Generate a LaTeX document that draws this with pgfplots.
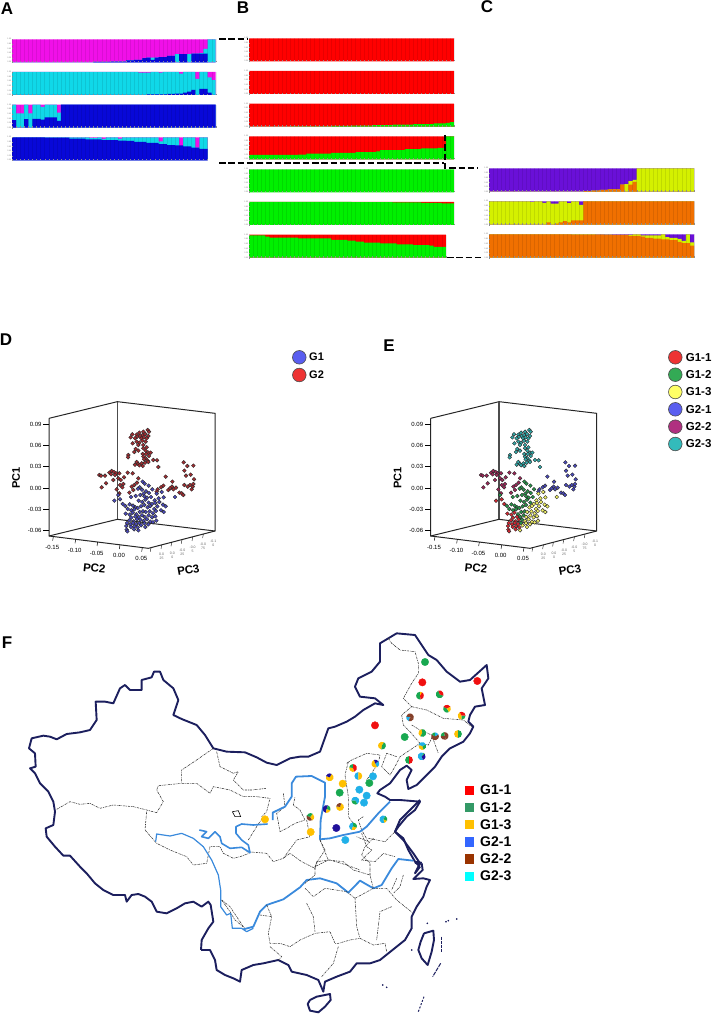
\documentclass[border=0pt]{standalone}
\usepackage{pgfplots}
\usepackage{pgfplotstable}
\usepackage{fontspec}
\setmainfont{Liberation Sans}
\pgfplotsset{compat=1.18}
\definecolor{mag}{HTML}{F010E8}\definecolor{cy}{HTML}{10D8E8}\definecolor{bl}{HTML}{0808D8}
\definecolor{rd}{HTML}{FF0000}\definecolor{gn}{HTML}{00F000}
\definecolor{pu}{HTML}{6A10D8}\definecolor{yg}{HTML}{D4F000}\definecolor{og}{HTML}{F07000}
\definecolor{navy}{HTML}{1C1F5E}\definecolor{riv}{HTML}{3A8ADC}
\definecolor{pR}{HTML}{F01010}\definecolor{pG}{HTML}{18A850}\definecolor{pA}{HTML}{FFC000}
\definecolor{pN}{HTML}{20109A}\definecolor{pB}{HTML}{84402A}\definecolor{pC}{HTML}{20B0E8}
\definecolor{lcy}{HTML}{00FFFF}\definecolor{lrd}{HTML}{FF0000}\definecolor{lG}{RGB}{51,153,102}
\definecolor{lB}{RGB}{51,102,255}\definecolor{lBr}{RGB}{153,51,0}
\definecolor{dR}{RGB}{165,45,50}\definecolor{dB}{RGB}{75,75,190}
\definecolor{eT}{RGB}{50,170,170}\definecolor{eP}{RGB}{160,40,90}\definecolor{eG}{RGB}{40,150,75}
\definecolor{eY}{RGB}{240,240,100}\definecolor{eD}{RGB}{215,40,50}
\pgfplotsset{
 panel/.style n args={5}{at={({#1*1pt},{(1020-#2-#4)*1pt})},anchor=south west,width=#3pt,height=#4pt,scale only axis,
  xmin=0,xmax=#5,ymin=0,ymax=1,axis on top,xtick={0,...,#5},xticklabels={},xmajorgrids,
  grid style={line width=.25pt,black,opacity=.09},ytick={0,.2,.4,.6,.8,1},axis line style={draw=none},
  tick style={line width=.2pt,black!45},major tick length=1.2pt,xtick pos=bottom,ytick pos=left,
  yticklabel style={font=\fontsize{2}{2}\selectfont,gray,inner sep=.5pt},
  /pgf/number format/.cd,fixed,fixed zerofill,precision=2,assume math mode=true},
 frame/.style n args={5}{at={({#1*1pt},{(1020-#2-#4)*1pt})},anchor=south west,width=#3pt,height=#4pt,scale only axis,
  xmin=0,xmax={#3*#5},ymin=0,ymax={#4*#5},y dir=reverse,hide axis,clip=false},
 prov/.style={line width=.55pt,black!80,dash pattern=on 2.2pt off .9pt on .7pt off .9pt},
 bord/.style={line width=1.9pt,navy,line join=round},
 pts/.style={only marks,mark=*,mark size=1.9pt,mark options={draw=black!85,line width=.38pt,fill=#1}},
 dot/.style={only marks,mark=*,mark size=3.7pt,mark options={draw=#1,line width=.4pt,fill=#1}},
 dashc/.style={black,line width=1.7pt,dash pattern=on 6.5pt off 2.8pt}
}
\newcommand\lay[2]{\addplot[const plot,fill=#1,draw=none] coordinates {#2} \closedcycle;}
\newcommand\prov[1]{\addplot[prov] coordinates {#1};}
\newcommand\pie[4]{\pgfdeclareplotmark{pie#1}{\foreach \pc/\pa/\pb in {#2}{\path[draw=none,fill=\pc] (0pt,0pt)--(\pa:3.9pt) arc[start angle=\pa,end angle=\pb,radius=3.9pt]--cycle;}}
 \addplot[only marks,draw=none,mark=pie#1] coordinates {(#3,#4)};}
\newcommand\pcaframe{
 \addplot[black!85,line width=1pt] coordinates {(147,265)(147,618)(445,655)(645,603)(645,250)(352,215)(147,265)};
 \addplot[black!70,line width=1.1pt] coordinates {(352,215)(352,568)};
 \addplot[black!85,line width=1pt] coordinates {(147,618)(352,568)(645,603)};
 \foreach \y/\l in {283/0.09,346/0.06,410/0.03,474/0.00,537/-0.03,601/-0.06}{
  \edef\tmp{\noexpand\addplot[black,line width=.5pt] coordinates {(130,\y)(147,\y)};
   \noexpand\node[anchor=east,font=\noexpand\fontsize{6}{6}\noexpand\selectfont,inner sep=1pt] at (axis cs:128,\y) {\l};}\tmp}
 \foreach \x/\ya/\l/\yb in {160/620/-0.15/652,227/628/-0.10/662,293/636/-0.05/670,360/645/0.00/676,427/653/0.05/685}{
  \pgfmathsetmacro\yc{\ya+12}
  \edef\tmp{\noexpand\addplot[black,line width=.5pt] coordinates {(\x,\ya)(\x-2,\yc)};
   \noexpand\node[font=\noexpand\fontsize{6}{6}\noexpand\selectfont,inner sep=0pt] at (axis cs:\x-3,\yb) {\l};}\tmp}
 \foreach \x/\ya/\xb/\yb/\la/\lb in {453/653/485/680/0.0/25,485/645/517/676/0.0/0,515/637/547/666/-0.0/25,546/629/578/658/-0.0/5,578/621/609/650/-0.0/75,610/612/640/640/-0.1/0}{
  \pgfmathsetmacro\yc{\ya+12}
  \edef\tmp{\noexpand\addplot[black,line width=.4pt] coordinates {(\x,\ya)(\x-2,\yc)};
   \noexpand\node[align=center,text=black!60,font=\noexpand\fontsize{3.5}{4}\noexpand\selectfont,inner sep=0pt] at (axis cs:\xb,\yb) {\la\noexpand\\\lb};}\tmp}
 \node[rotate=90,font=\fontsize{11}{11}\selectfont\bfseries] at (axis cs:48,443) {PC1};
 \node[rotate=-6,font=\fontsize{11.5}{11}\selectfont\bfseries] at (axis cs:283,715) {PC2};
 \node[rotate=10,font=\fontsize{11.5}{11}\selectfont\bfseries] at (axis cs:565,720) {PC3};
}
\pgfplotstableread{
x y
392 322
397 313
410 314
418 308
430 305
443 300
447 305
405 325
412 320
420 318
428 315
436 312
445 318
424 325
432 322
440 325
410 335
418 338
427 332
437 335
398 340
415 345
430 345
440 352
407 357
415 362
403 366
385 375
384 382
430 355
437 362
445 368
428 372
438 372
452 368
430 380
437 385
447 378
432 388
443 392
460 390
471 391
410 396
405 404
415 402
425 400
435 398
445 396
428 408
418 406
475 411
}\tU
\pgfplotstableread{
x y
298 435
303 437
315 437
328 428
335 423
342 426
348 430
358 430
333 433
345 435
305 472
318 460
340 450
355 445
362 450
372 442
383 428
398 430
415 445
360 465
350 478
370 462
367 472
358 490
395 470
403 465
411 458
388 488
400 480
}\tL
\pgfplotstableread{
x y
551 397
562 408
580 407
553 422
558 437
572 434
582 448
570 465
578 470
553 465
580 462
563 470
575 478
517 455
516 470
520 478
497 440
490 467
483 472
505 480
473 478
470 485
538 488
545 490
550 495
528 473
510 475
}\tR
\pgfplotstableread{
x y
428 455
434 461
419 472
446 467
426 479
438 484
431 491
447 489
457 478
414 476
393 501
407 498
421 495
433 499
441 503
453 501
416 512
427 516
436 509
446 518
376 528
389 523
399 527
406 532
383 537
394 541
403 538
413 534
423 529
433 525
355 495
409 553
419 546
429 544
416 561
426 556
421 569
418 579
}\tG
\pgfplotstableread{
x y
470 491
485 486
464 511
476 505
491 502
497 529
525 501
456 522
466 519
478 516
489 524
443 532
451 528
463 537
472 529
483 541
491 546
437 546
449 544
459 550
468 543
434 561
446 556
456 562
466 559
431 573
441 568
451 575
469 572
433 580
445 583
459 577
436 591
423 586
415 601
}\tY
\pgfplotstableread{
x y
343 512
360 508
368 522
377 551
389 554
398 548
394 563
406 560
388 571
401 574
411 568
381 579
391 583
399 579
409 582
379 588
393 591
403 589
413 592
380 599
382 604
402 598
}\tD
\begin{document}
\begin{tikzpicture}
\path[use as bounding box] (0pt,0pt) rectangle (716pt,1020pt);
% ---------- A
\begin{axis}[panel={12}{39.3}{203.7}{23}{50}]
\lay{mag}{(0,1)(50,1)}
\lay{cy}{(0,0)(20,.02)(24,.03)(28,.08)(30,.1)(32,.18)(33,.2)(36,.22)(38,.28)(40,.35)(42,.36)(44,.38)(46,.4)(47,.58)(48,1)(50,1)}
\lay{bl}{(0,0)(20,.02)(24,.03)(28,.08)(30,.1)(32,.18)(33,.2)(34,.1)(35,.2)(36,.22)(38,.28)(40,0)(41,.35)(43,0)(44,.38)(47,.38)(48,0)(50,0)}
\end{axis}
\begin{axis}[panel={12}{72}{203.7}{23}{50}]
\lay{mag}{(0,1)(50,1)}
\lay{cy}{(0,1)(31,.97)(34,1)(36,.97)(37,1)(41,.93)(42,1)(45,.7)(46,1)(48,.77)(49,.65)(50,.65)}
\lay{bl}{(0,0)(28,.01)(33,.03)(36,.03)(38,.05)(40,.06)(42,.1)(43,.15)(44,.22)(45,0)(46,.27)(48,.1)(49,0)(50,0)}
\end{axis}
\begin{axis}[panel={12}{104.7}{203.7}{23}{50}]
\lay{mag}{(0,1)(50,1)}
\lay{cy}{(0,1)(1,.62)(3,1)(4,.62)(5,1)(7,.9)(8,1)(11,.65)(12,1)(50,1)}
\lay{bl}{(0,.33)(1,0)(3,.37)(4,0)(5,.38)(7,.35)(8,.45)(11,.3)(12,1)(50,1)}
\end{axis}
\begin{axis}[panel={12}{137.3}{195.6}{23}{48}]
\lay{mag}{(0,1)(48,1)}
\lay{cy}{(0,1)(19,.97)(21,1)(22,.93)(23,1)(26,.94)(27,1)(36,.82)(37,1)(41,.6)(42,1)(45,.55)(46,1)(48,1)}
\lay{bl}{(0,1)(8,.98)(14,.94)(18,.91)(22,.88)(26,.86)(28,.84)(30,.8)(33,.76)(36,.7)(38,.66)(40,.65)(42,.6)(44,.55)(46,.5)(48,.5)}
\end{axis}
% ---------- B
\begin{axis}[panel={249}{38.3}{205}{23}{50}]
\lay{rd}{(0,1)(50,1)}
\end{axis}
\begin{axis}[panel={249}{71}{205}{23}{50}]
\lay{rd}{(0,1)(50,1)}
\end{axis}
\begin{axis}[panel={249}{103.7}{205}{23}{50}]
\lay{rd}{(0,1)(50,1)}
\lay{gn}{(0,0)(10,.01)(20,.03)(25,.05)(30,.07)(35,.09)(40,.11)(45,.14)(48,.17)(49,.2)(50,.2)}
\end{axis}
\begin{axis}[panel={249}{136.3}{205}{23}{50}]
\lay{rd}{(0,1)(50,1)}
\lay{gn}{(0,.19)(12,.2)(14,.25)(20,.28)(26,.31)(31,.34)(32,.4)(38,.44)(42,.47)(46,.5)(48,1)(50,1)}
\end{axis}
\begin{axis}[panel={249}{169.3}{205}{23}{50}]
\lay{gn}{(0,1)(50,1)}
\end{axis}
\begin{axis}[panel={249}{202}{205}{23}{50}]
\lay{rd}{(0,1)(50,1)}
\lay{gn}{(0,1)(25,.99)(35,.98)(42,.96)(47,.94)(50,.94)}
\end{axis}
\begin{axis}[panel={249}{234.7}{196.8}{23}{48}]
\lay{rd}{(0,1)(48,1)}
\lay{gn}{(0,.97)(4,.92)(5,.87)(12,.84)(20,.77)(24,.74)(26,.7)(28,.65)(32,.62)(36,.58)(40,.55)(44,.52)(45,.47)(48,.47)}
\end{axis}
% ---------- C
\begin{axis}[panel={489}{168.3}{205}{23.4}{50}]
\lay{pu}{(0,1)(50,1)}
\lay{yg}{(0,0)(23,.02)(25,.05)(27,.08)(29,.1)(32,.3)(33,.32)(34,.45)(35,.5)(36,1)(50,1)}
\lay{og}{(0,0)(23,.02)(25,.05)(27,.08)(29,.1)(32,.3)(33,0)(34,.3)(35,.42)(36,0)(50,0)}
\end{axis}
\begin{axis}[panel={489}{201.3}{205}{23.4}{50}]
\lay{pu}{(0,1)(50,1)}
\lay{yg}{(0,1)(10,.98)(11,1)(13,.93)(14,1)(15,.9)(17,1)(19,.92)(20,1)(22,.85)(23,1)(50,1)}
\lay{og}{(0,0)(14,.1)(15,0)(16,.05)(17,.1)(18,.15)(19,.1)(20,.18)(23,1)(50,1)}
\end{axis}
\begin{axis}[panel={489}{234.3}{205}{23.4}{50}]
\lay{pu}{(0,1)(50,1)}
\lay{yg}{(0,1)(26,.99)(30,.98)(35,1)(37,.95)(42,1)(43,.88)(44,.85)(46,.8)(47,.72)(48,1)(49,.65)(50,.65)}
\lay{og}{(0,1)(20,.99)(28,.97)(34,.93)(37,.9)(38,.85)(40,.82)(42,.78)(44,.75)(46,.68)(47,.62)(49,.52)(50,.52)}
\end{axis}
% ---------- D
\begin{axis}[frame={0}{330}{360}{270}{3}]
\pcaframe
\addplot[pts=dR] table {\tU};
\addplot[pts=dR] table {\tL};
\addplot[pts=dR] table {\tR};
\addplot[pts=dB] table {\tG};
\addplot[pts=dB] table {\tY};
\addplot[pts=dB] table {\tD};
\end{axis}
% ---------- E
\begin{axis}[frame={381.67}{330}{334}{270}{3}]
\pcaframe
\addplot[pts=eT] table {\tU};
\addplot[pts=eP] table {\tL};
\addplot[pts=dB] table {\tR};
\addplot[pts=eG] table {\tG};
\addplot[pts=eY] table {\tY};
\addplot[pts=eD] table {\tD};
\end{axis}
% ---------- F west
\begin{axis}[frame={0}{620}{360}{400}{3}]
\addplot[bord] coordinates {(603,990)(605,960)(625,925)(640,905)(632,855)(625,845)(605,860)(580,845)(555,850)(530,865)(500,880)(470,875)(455,845)(435,830)(415,822)(395,825)(380,845)(375,825)(340,825)(310,810)(285,790)(260,760)(240,740)(210,707)(190,707)(165,680)(140,650)(137,625)(160,615)(165,575)(160,545)(145,515)(120,490)(105,460)(90,445)(107,440)(105,400)(87,385)(95,355)(130,347)(150,350)(170,358)(200,342)(240,337)(270,330)(290,300)(287,245)(315,245)(340,250)(360,205)(375,195)(390,210)(425,210)(425,180)(455,172)(462,155)(480,155)(490,180)(520,205)(535,240)(520,285)(545,297)(590,315)(615,345)(640,385)(680,395)(735,397)(770,412)(800,428)(830,435)(870,415)(900,410)};
\prov{(170,568)(210,545)(240,553)(270,550)(300,565)(340,555)(400,560)(440,570)(470,578)(490,545)(470,510)(475,497)(545,490)(590,490)(630,520)(640,500)(690,510)(730,530)(770,530)(810,535)(800,575)(785,590)}
\prov{(640,385)(590,420)(545,450)(545,488)}
\prov{(650,395)(660,440)(700,460)(715,455)(700,480)(730,510)(755,510)(800,505)}
\prov{(440,575)(435,630)(470,670)(510,690)(560,710)(580,735)(620,730)(630,680)(660,680)(670,700)(700,715)(720,710)(748,700)}
\prov{(745,660)(770,620)(790,590)}
\prov{(740,695)(800,700)(820,725)(850,715)(870,700)(905,725)(945,745)}
\prov{(945,745)(950,725)(990,720)(1040,735)(1080,750)}
\prov{(850,520)(855,560)(830,580)(840,635)(860,625)(885,610)(915,600)(900,570)(880,555)(885,530)}
\prov{(920,600)(930,650)(890,660)(850,715)}
\prov{(665,840)(690,875)(705,900)(735,925)}
\addplot[black,line width=.6pt] coordinates {(697,575)(715,572)(722,590)(705,590)(697,575)};
\addplot[riv,line width=1.6pt,line join=round] coordinates {(598,630)(620,635)(605,650)(625,655)(645,635)(660,650)(665,670)(690,685)(725,682)(750,698)(745,675)(725,660)(708,640)(708,620)(725,612)(760,615)(803,612)};
\addplot[riv,line width=1.8pt,line join=round] coordinates {(818,600)(818,578)(830,572)(855,560)(875,530)(875,490)(888,470)(935,468)(975,488)(975,530)(962,600)(960,658)(990,655)(1030,645)(1080,635)};
\addplot[riv,line width=1.2pt,line join=round] coordinates {(467,665)(470,642)(510,648)(545,640)(580,655)(610,680)(635,720)(655,765)(662,810)(662,860)(680,885)(692,880)(697,925)(725,925)(740,935)(760,925)};
\end{axis}
% ---------- F north-east
\begin{axis}[frame={300}{620}{240}{260}{3}]
\addplot[bord] coordinates {(0,410)(25,410)(60,395)(85,325)(105,320)(140,305)(165,290)(190,270)(225,250)(250,255)(225,235)(180,230)(165,200)(175,175)(215,155)(240,125)(240,70)(290,40)(345,45)(365,75)(385,105)(410,120)(440,155)(480,185)(510,180)(560,135)(565,175)(545,205)(555,255)(525,260)(510,285)(505,305)(520,320)(510,340)(490,365)(450,385)(425,410)(405,440)(375,470)(350,495)(325,507)(320,480)(335,450)(320,437)(300,450)(270,490)(240,510)(232,520)(255,530)(270,540)(300,540)(360,545)(345,570)(320,590)(295,620)(285,635)(310,655)(325,690)(345,725)(360,740)};
\prov{(265,55)(275,70)(300,90)(345,95)(355,130)(355,160)(335,190)(310,235)(335,260)(305,285)(310,315)(330,335)(360,370)(385,375)(400,345)}
\prov{(335,260)(380,270)(430,295)(490,300)(515,320)}
\prov{(335,315)(360,330)(395,345)(415,400)}
\prov{(290,410)(260,400)(245,440)(270,465)(285,440)(300,410)(330,390)(360,370)}
\prov{(140,430)(155,420)(200,400)(240,405)(235,430)(200,480)}
\prov{(145,425)(135,465)(145,530)(145,590)(160,610)}
\prov{(190,590)(175,600)(185,630)(205,665)(170,650)}
\prov{(60,660)(75,690)(55,720)(45,740)}
\prov{(185,640)(200,680)(215,690)(185,720)(225,725)(250,700)(285,710)}
\addplot[riv,line width=1.8pt,line join=round] coordinates {(180,635)(200,620)(235,580)(270,545)};
\addplot[dot=pG] coordinates {(375,126)(314,351)(119,518)(208,489)};
\addplot[dot=pR] coordinates {(367,187)(532,183)(225,316)};
\addplot[dot=pA] coordinates {(128,491)(32,636)(-105,598)};
\addplot[dot=pC] coordinates {(219,469)(178,509)(200,527)(192,548)(136,660)};
\addplot[dot=pN] coordinates {(109,624)};
\pie{a}{pG/90/280,pR/280/430,pA/60/90}{360}{227}
\pie{b}{pG/110/340,pR/340/470}{419}{223}
\pie{c}{pG/150/300,pR/30/150,pA/300/390}{441}{266}
\pie{d}{pA/120/270,pG/270/360,pR/0/120}{485}{287}
\pie{e}{pB/-30/170,pC/170/250,pB/250/330}{330}{292}
\pie{f}{pA/100/240,pG/240/460}{367}{339}
\pie{g}{pB/150/390,pG/90/150,pC/30/90}{405}{349}
\pie{h}{pB/-70/100,pG/100/180,pB/180/290}{434}{348}
\pie{i}{pA/90/270,pG/270/450}{474}{342}
\pie{j}{pA/60/260,pG/260/420}{246}{377}
\pie{k}{pC/20/170,pA/170/290,pG/290/380}{367}{378}
\pie{l}{pC/60/290,pN/290/400,pG/400/420}{365}{409}
\pie{m}{pG/90/270,pR/270/450}{327}{420}
\pie{n}{pA/110/300,pC/300/400,pN/40/110}{226}{431}
\pie{o}{pA/170/290,pG/90/170,pR/-70/90}{159}{444}
\pie{p}{pA/-200/60,pN/60/160}{89}{472}
\pie{q}{pC/90/270,pA/270/450}{175}{468}
\pie{r}{pC/-60/180,pG/180/300}{166}{542}
\pie{s}{pN/70/260,pA/260/340,pG/-20/70}{80}{567}
\pie{t}{pA/-190/70,pB/70/170}{120}{561}
\pie{u}{pB/160/300,pG/50/160,pA/-60/50}{31}{591}
\pie{v}{pC/90/250,pA/250/340,pG/-20/90}{159}{619}
\pie{w}{pC/60/290,pA/290/340,pG/-20/60}{250}{598}
\foreach \c/\yy/\l in {lrd/510/G1-1,lG/562/G1-2,pA/613/G1-3,lB/665/G2-1,lBr/716/G2-2,lcy/768/G2-3}{
 \edef\tmp{\noexpand\node[anchor=west,font=\noexpand\fontsize{14}{14}\noexpand\selectfont\noexpand\bfseries,inner sep=0pt] at (axis cs:540,\yy) {\l};}\tmp
 \edef\tmp{\noexpand\addplot[only marks,mark=square*,mark size=4.3pt,mark options={draw=\c,line width=.3pt,fill=\c}] coordinates {(508,\yy)};}\tmp}
\end{axis}
% ---------- F south-east
\begin{axis}[frame={200}{800}{340}{220}{3}]
\addplot[bord] coordinates {(660,200)(645,220)(660,190)(640,160)(610,120)(585,95)(600,60)(630,30)(660,0)};
\addplot[bord] coordinates {(665,190)(668,210)(640,237)(670,235)(690,240)(680,260)(670,290)(650,320)(635,350)(635,385)(615,420)(590,440)(565,460)(540,480)(510,490)(470,490)(450,515)(410,530)(375,545)(370,575)(355,540)(320,525)(275,515)(265,495)(235,480)(190,490)(160,495)(125,510)(120,545)(100,535)(75,525)(50,510)(45,480)(30,450)(3,450)};
\addplot[bord,line width=3pt] coordinates {(645,187)(665,190)};
\addplot[bord] coordinates {(330,600)(350,590)(390,582)(392,600)(375,620)(355,637)(330,632)(323,612)(330,600)};
\addplot[bord] coordinates {(672,400)(700,392)(702,420)(695,455)(683,495)(665,475)(655,450)(662,425)(672,400)};
\addplot[bord,line width=1pt,dash pattern=on 3pt off 1pt] coordinates {(725,410)(725,455)};
\addplot[bord,line width=1pt,dash pattern=on 4pt off 1pt] coordinates {(722,490)(698,530)};
\addplot[bord,line width=1pt,dash pattern=on 2pt off 1.5pt] coordinates {(672,590)(655,635)};
\addplot[only marks,mark=*,mark size=.6pt,navy] coordinates {(738,365)(745,362)(770,357)(682,370)(635,450)(548,555)(560,562)};
\addplot[riv,line width=1.8pt,line join=round] coordinates {(130,388)(160,380)(180,335)(200,315)(250,298)(300,262)(320,240)(360,235)(410,250)(445,278)(480,242)(520,265)(545,255)(575,205)(595,177)(640,182)};
\prov{(65,300)(90,320)(110,350)(130,380)}
\prov{(180,345)(215,350)(205,400)(210,430)(240,430)(270,440)(300,420)(345,400)(390,395)(405,430)(415,430)(450,420)(480,415)(520,435)(555,430)(560,455)}
\prov{(200,315)(215,350)}
\prov{(320,310)(340,350)(345,395)}
\prov{(315,265)(340,290)(375,265)(440,275)(465,295)(470,380)(480,415)}
\prov{(465,295)(520,265)(560,265)(590,300)(640,340)}
\prov{(575,320)(540,335)(530,420)}
\prov{(210,440)(245,470)(235,480)}
\prov{(415,440)(400,490)(365,530)}
\prov{(590,235)(575,270)}
\prov{(610,225)(600,260)(580,280)}
\prov{(360,120)(385,180)(345,200)(345,225)(315,250)}
\prov{(385,180)(430,185)(460,210)(510,225)(520,265)}
\prov{(520,115)(495,140)(485,165)(510,190)(510,225)}
\prov{(505,115)(555,125)(585,95)}
\end{axis}
% ---------- master: connectors, letters, legends
\begin{axis}[frame={0}{0}{716}{1020}{1}]
\addplot[dashc] coordinates {(219,39.3)(247,39.3)};
\addplot[dashc] coordinates {(219,162.7)(444,162.7)};
\addplot[dashc] coordinates {(445,135)(445,168)(478,168)};
\addplot[dashc] coordinates {(447,257.4)(481,257.4)};
\foreach \x/\y/\l in {7/9/A,243/8/B,487/7/C,6/340/D,389/346/E,7/643/F}{
 \edef\tmp{\noexpand\node[font=\noexpand\fontsize{17}{17}\noexpand\selectfont\noexpand\bfseries,inner sep=0pt] at (axis cs:\x,\y) {\l};}\tmp}
\addplot[only marks,mark=*,mark size=6.8pt,mark options={draw=black!70,line width=.6pt,fill={rgb,255:red,90;green,94;blue,240}}] coordinates {(299.3,357.3)};
\addplot[only marks,mark=*,mark size=6.8pt,mark options={draw=black!70,line width=.6pt,fill={rgb,255:red,238;green,51;blue,51}}] coordinates {(299.3,375)};
\foreach \y/\l in {357/G1,375/G2}{
 \edef\tmp{\noexpand\node[anchor=west,font=\noexpand\fontsize{11}{11}\noexpand\selectfont\noexpand\bfseries,inner sep=0pt] at (axis cs:309,\y) {\l};}\tmp}
\foreach \y/\l/\c in {357.3/G1-1/{rgb,255:red,238;green,51;blue,51},374.7/G1-2/{rgb,255:red,51;green,170;blue,85},392/G1-3/{rgb,255:red,255;green,255;blue,102},409.3/G2-1/{rgb,255:red,90;green,94;blue,240},426.7/G2-2/{rgb,255:red,176;green,48;blue,128},444/G2-3/{rgb,255:red,51;green,187;blue,187}}{
 \edef\tmp{\noexpand\addplot[only marks,mark=*,mark size=6.8pt,mark options={draw=black!70,line width=.6pt,fill={\c}}] coordinates {(675.3,\y)};
 \noexpand\node[anchor=west,font=\noexpand\fontsize{11.5}{11}\noexpand\selectfont\noexpand\bfseries,inner sep=0pt] at (axis cs:685.7,\y) {\l};}\tmp}
\end{axis}
\end{tikzpicture}
\end{document}
